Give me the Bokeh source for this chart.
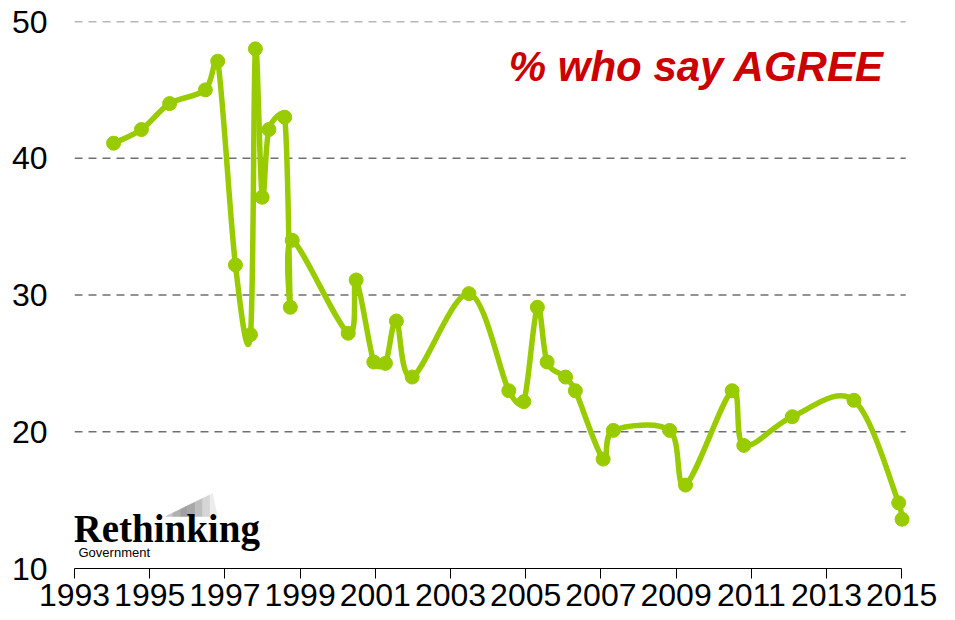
import math
from bokeh.plotting import figure
from bokeh.models import FixedTicker, Range1d
from bokeh.core.properties import value
from bokeh.embed import file_html
from bokeh.resources import INLINE

# ---- data ----
years = [1994.04, 1994.78, 1995.53, 1996.48, 1996.81, 1997.28, 1997.68, 1997.81,
         1997.99, 1998.17, 1998.59, 1998.74, 1998.79, 2000.28, 2000.49, 2000.96,
         2001.27, 2001.56, 2001.98, 2003.49, 2004.55, 2004.95, 2005.31, 2005.57,
         2006.06, 2006.32, 2007.06, 2007.33, 2008.83, 2009.25, 2010.49, 2010.80,
         2012.09, 2013.73, 2014.92, 2015.01]
agree = [41.1, 42.1, 44.0, 45.0, 47.1, 32.2, 27.1, 48.0,
         37.15, 42.1, 43.0, 29.1, 34.0, 27.2, 31.1, 25.1,
         25.0, 28.1, 24.0, 30.1, 23.0, 22.2, 29.1, 25.1,
         24.0, 23.0, 18.0, 20.1, 20.1, 16.1, 23.0, 19.0,
         21.1, 22.3, 14.8, 13.6]
x_ticks = [1993, 1995, 1997, 1999, 2001, 2003, 2005, 2007, 2009, 2011, 2013, 2015]
x_tick_labels = [str(t) for t in x_ticks]
y_ticks = [10, 20, 30, 40, 50]
title_text = "% who say AGREE"

GREEN = "#99CC00"
FONT = "Liberation Sans"
PX_X, PX_Y = 37.6, 13.675   # screen pixels per year / per percentage point

p = figure(width=955, height=620, x_range=Range1d(1993, 1993 + 841 / PX_X), y_range=Range1d(10, 50),
           output_backend="svg", toolbar_location=None,
           min_border_left=74, min_border_right=40, min_border_top=21, min_border_bottom=52)
p.outline_line_color = None
p.background_fill_color = "white"
p.border_fill_color = "white"

# grid: dashed horizontal lines that stop just past the last year
p.xgrid.visible = False
p.ygrid.visible = False
grid_levels = [t for t in y_ticks if t != y_ticks[0]]
grid_end = x_ticks[-1] + 4 / PX_X
p.segment(x0=[x_ticks[0]] * len(grid_levels), x1=[grid_end] * len(grid_levels),
          y0=grid_levels, y1=grid_levels, line_color="#707070", line_dash="8 6", line_width=1.3)

# x axis
p.xaxis.ticker = FixedTicker(ticks=x_ticks)
p.xaxis.major_label_overrides = {t: s for t, s in zip(x_ticks, x_tick_labels)}
p.xaxis.axis_line_color = "black"
p.xaxis.axis_line_width = 1.2
p.xaxis.bounds = (x_ticks[0], x_ticks[-1])
p.xaxis.major_tick_line_color = "black"
p.xaxis.major_tick_out = 10
p.xaxis.major_tick_in = 0
p.xaxis.minor_tick_line_color = None
p.xaxis.major_label_text_font = FONT
p.xaxis.major_label_text_font_size = "32px"
p.xaxis.major_label_text_color = "black"
p.xaxis.major_label_standoff = 5

# y axis
p.yaxis.ticker = FixedTicker(ticks=y_ticks)
p.yaxis.axis_line_color = None
p.yaxis.major_tick_line_color = None
p.yaxis.minor_tick_line_color = None
p.yaxis.major_tick_out = 0
p.yaxis.major_tick_in = 0
p.yaxis.major_label_standoff = 27
p.yaxis.major_label_text_font = FONT
p.yaxis.major_label_text_font_size = "32px"
p.yaxis.major_label_text_color = "black"

# smoothed line: spreadsheet-style Bezier smoothing (handles limited to half a segment,
# lengths measured on screen)
def dist(i, j):
    return math.hypot((years[j] - years[i]) * PX_X, (agree[j] - agree[i]) * PX_Y)

n = len(years)
x0, y0, x1, y1, cx0, cy0, cx1, cy1 = [], [], [], [], [], [], [], []
for i in range(n - 1):
    a = max(i - 1, 0)
    d = min(i + 2, n - 1)
    d12 = dist(i, i + 1)
    da = dist(a, i + 1)
    dd = dist(i, d)
    f0 = 1 / 6.0 if da == 0 or da / 6.0 < d12 / 2.0 else 0.5 * d12 / da
    f1 = 1 / 6.0 if dd == 0 or dd / 6.0 < d12 / 2.0 else 0.5 * d12 / dd
    x0.append(years[i]); y0.append(agree[i])
    x1.append(years[i + 1]); y1.append(agree[i + 1])
    cx0.append(years[i] + (years[i + 1] - years[a]) * f0)
    cy0.append(agree[i] + (agree[i + 1] - agree[a]) * f0)
    cx1.append(years[i + 1] - (years[d] - years[i]) * f1)
    cy1.append(agree[i + 1] - (agree[d] - agree[i]) * f1)
p.bezier(x0=x0, y0=y0, x1=x1, y1=y1, cx0=cx0, cy0=cy0, cx1=cx1, cy1=cy1,
         line_color=GREEN, line_width=5.5, line_cap="round")
p.scatter(years, agree, size=14, fill_color=GREEN, line_color=GREEN, line_width=1)

# helpers: picture pixel -> data coordinates (for decorations only)
def sx(px):
    return 1993 + (px - 74) / PX_X

def sy(py):
    return 50 - (py - 21) / PX_Y

BASE_FIX = 0.38  # empirical shift of the alphabetic baseline, in em

# title text
p.text(x=[sx(884)], y=[sy(81.7 - BASE_FIX * 42)], text=[title_text], text_font=value(FONT),
       text_font_style="bold italic", text_font_size="42px", text_color="#CC0000",
       text_align="right", text_baseline="alphabetic")

# logo: gray wedge drawn in a few graded strips
wedge = [(165, 516), (212, 493), (217, 516)]
def top_at(px):
    (ax, ay), (bx, by), (cx, cy) = wedge
    if px <= bx:
        return ay + (by - ay) * (px - ax) / (bx - ax)
    return by + (cy - by) * (px - bx) / (cx - bx)

shades = ["#c8c8c8", "#b0b0b0", "#a0a0a0", "#a8a8a8", "#bebebe", "#d6d6d6", "#ececec"]
edges = [wedge[0][0] + (wedge[2][0] - wedge[0][0]) * k / len(shades) for k in range(len(shades) + 1)]
xs, ys = [], []
for k in range(len(shades)):
    l, r = edges[k], edges[k + 1]
    pts = [(l, 516), (l, top_at(l))]
    if l < wedge[1][0] < r:
        pts.append((wedge[1][0], wedge[1][1]))
    pts += [(r, top_at(r)), (r, 516)]
    xs.append([sx(a) for a, b in pts]); ys.append([sy(b) for a, b in pts])
p.patches(xs, ys, fill_color=shades, line_color=shades, line_width=0.5)

p.text(x=[sx(73)], y=[sy(543 - BASE_FIX * 39)], text=["Rethinking"], text_font=value("Liberation Serif"),
       text_font_style="bold", text_font_size="39px", text_color="black",
       text_align="left", text_baseline="alphabetic")
p.text(x=[sx(78)], y=[sy(557.3 - BASE_FIX * 13)], text=["Government"], text_font=value(FONT),
       text_font_size="13px", text_color="black",
       text_align="left", text_baseline="alphabetic")

open("out.html", "w").write(file_html(p, INLINE))
